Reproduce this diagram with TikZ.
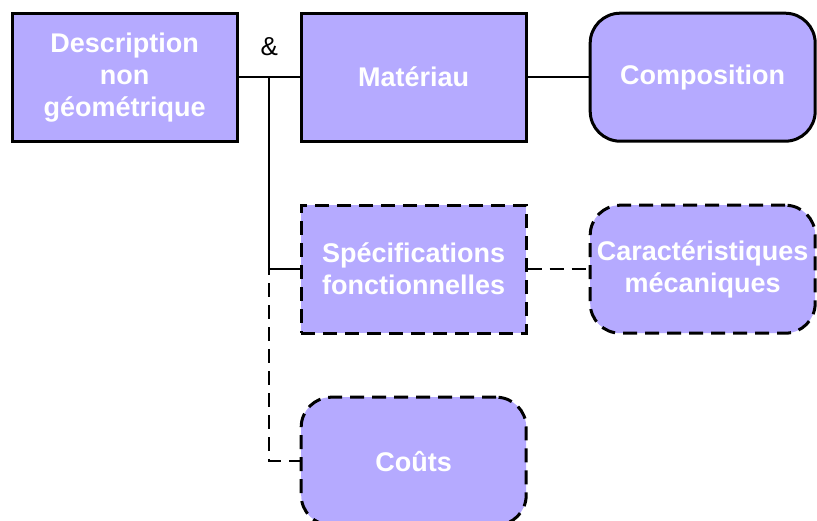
\documentclass[tikz,border=0pt]{standalone}
\usepackage{fontspec}
\setmainfont{Liberation Sans}
\usepackage{xcolor}
\usetikzlibrary{positioning}
\definecolor{boxfill}{RGB}{181,170,255}

\begin{document}
\begin{tikzpicture}[x=1pt,y=1pt]
\tikzstyle{block} = [rectangle, draw=black, line width=3pt, fill=boxfill, text=white, font=\fontsize{27}{32}\selectfont\bfseries, align=center, minimum width=225pt, minimum height=128pt, inner sep=0pt]
\tikzstyle{soft} = [block, rounded corners=30pt]
\tikzstyle{opt} = [dash pattern=on 14pt off 8pt]
\tikzstyle{line} = [draw, line width=2.5pt]

\useasboundingbox (0,0) rectangle (817,-521);

 \matrix [column sep=61pt, row sep=61pt, inner sep=0pt, anchor=north west] at (10.5,-11.5)
	{
		% row 1
		\node [block] (desc) {Description\\non\\géométrique}; &
		\node [block] (mat) {Matériau}; &
		\node [soft] (comp) {Composition}; \\
		% row 2
		& \node [block,opt] (spec) {Spécifications\\fonctionnelles}; &
		\node [soft,opt] (carac) {Caractéristiques\\mécaniques}; \\
		% row 3
		& \node [soft,opt] (couts) {Coûts}; \\
	};

\tikzstyle{every path}=[line]
	\path (desc) -- coordinate[midway] (junc) (mat);
	\path (mat) -- (comp);
	\path (junc) |- (spec.west);
	\path [opt, dash phase=8pt] (junc |- spec.west) |- (couts.west);
	\path [opt] (spec) -- (carac);
	\node [draw=none, font=\fontsize{26}{30}\selectfont, above=17pt of junc] (amp) {\&};
\end{tikzpicture}
\end{document}
